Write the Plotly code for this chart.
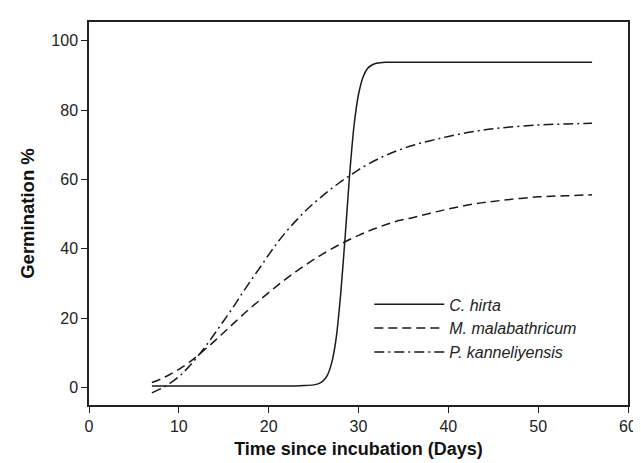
import plotly.graph_objects as go

# Days since incubation and fitted germination %
x_hirta = [7, 10, 15, 20, 23, 24, 25, 25.5, 26, 26.5, 27, 27.5, 28, 28.5, 29, 29.5, 30,
           30.5, 31, 31.5, 32, 33, 35, 40, 45, 50, 56]
y_hirta = [0.5, 0.5, 0.5, 0.5, 0.5, 0.6, 0.8, 1.1, 1.8, 3.4, 7.0, 14.0, 26.5, 43.0, 61.0,
           75.5, 84.5, 89.5, 92.0, 93.0, 93.5, 93.8, 93.8, 93.8, 93.8, 93.8, 93.8]

x_mala = [7, 8, 9, 10, 11, 12, 13, 14, 15, 16, 17, 18, 19, 20, 21, 22, 23, 24, 25, 26,
          28, 30, 32, 34, 36, 38, 40, 43, 46, 50, 53, 56]
y_mala = [1.5, 2.5, 3.8, 5.3, 7.0, 9.0, 11.2, 13.5, 15.9, 18.3, 20.7, 23.0, 25.2, 27.4,
          29.5, 31.5, 33.4, 35.2, 36.9, 38.5, 41.4, 43.9, 46.0, 47.8, 49.0, 50.3, 51.5,
          53.0, 54.0, 55.0, 55.3, 55.6]

x_kann = [7, 8, 9, 10, 11, 12, 13, 14, 15, 16, 17, 18, 19, 20, 21, 22, 23, 24, 25, 26,
          27, 28, 29, 30, 32, 34, 36, 38, 40, 43, 46, 50, 53, 56]
y_kann = [-1.5, -0.3, 1.2, 3.2, 5.7, 8.7, 12.0, 15.6, 19.3, 23.0, 27.0, 30.8, 34.5, 38.3,
          41.9, 45.1, 48.0, 50.7, 53.1, 55.3, 57.4, 59.3, 61.1, 62.8, 65.7, 68.0, 69.8,
          71.2, 72.4, 73.9, 74.9, 75.7, 76.0, 76.2]

names = ["C. hirta", "M. malabathricum", "P. kanneliyensis"]
x_ticks = [0, 10, 20, 30, 40, 50, 60]
y_ticks = [0, 20, 40, 60, 80, 100]

line_col = "#1a1a1a"
font_fam = "Liberation Sans, Arial"
fig = go.Figure()
fig.add_trace(go.Scatter(x=x_hirta, y=y_hirta, mode="lines", name="<i>%s</i>" % names[0],
                         line=dict(color=line_col, width=1.5, shape="spline", smoothing=0.6)))
fig.add_trace(go.Scatter(x=x_mala, y=y_mala, mode="lines", name="<i>%s</i>" % names[1],
                         line=dict(color=line_col, width=1.5, dash="9px,5px", shape="spline")))
fig.add_trace(go.Scatter(x=x_kann, y=y_kann, mode="lines", name="<i>%s</i>" % names[2],
                         line=dict(color=line_col, width=1.5, dash="10px,4px,2px,4px", shape="spline")))

axis_common = dict(showgrid=False, zeroline=False, showline=True, linecolor="#222",
                   linewidth=1.5, mirror=True, ticks="outside", ticklen=6, tickwidth=1.2,
                   tickcolor="#222", tickfont=dict(family=font_fam, size=16, color="#222"))

fig.update_layout(
    width=641, height=463,
    margin=dict(l=81, r=14, t=13, b=66),
    paper_bgcolor="white", plot_bgcolor="white",
    xaxis=dict(range=[0, 60], tickvals=x_ticks, **axis_common,
               title=dict(text="<b>Time since incubation (Days)</b>", standoff=8,
                          font=dict(family=font_fam, size=18, color="#111"))),
    yaxis=dict(range=[-5.0, 105.4], tickvals=y_ticks, **axis_common,
               title=dict(text="<b>Germination %</b>", standoff=12,
                          font=dict(family=font_fam, size=18.5, color="#111"))),
    legend=dict(x=0.52, y=0.2, xanchor="left", yanchor="middle", bgcolor="rgba(0,0,0,0)",
                font=dict(family=font_fam, size=16, color="#222"),
                itemwidth=70, tracegroupgap=0),
    showlegend=True,
)

fig.write_html("out.html")
